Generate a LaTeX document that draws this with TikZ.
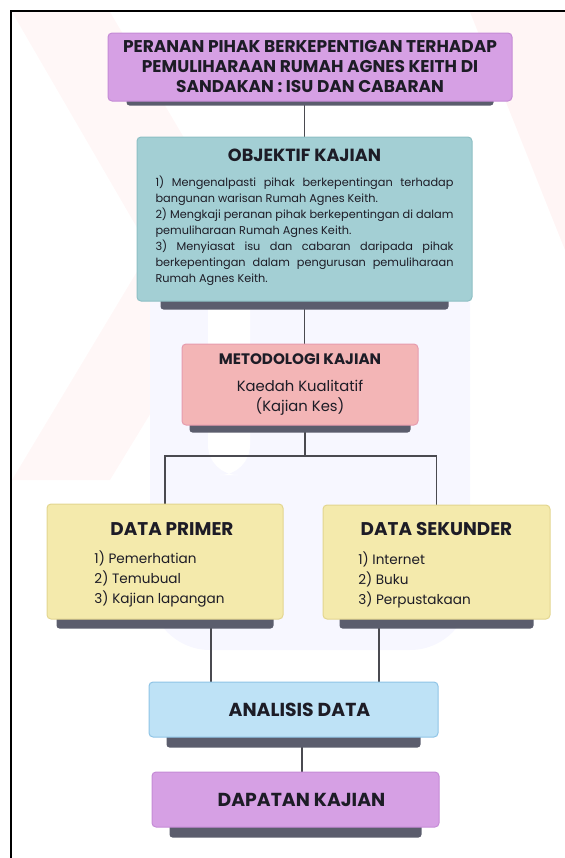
\documentclass[tikz,border=0pt]{standalone}
\usepackage{fontspec}
\setmainfont{Poppins}
\usetikzlibrary{backgrounds}
\setlength{\parindent}{0pt}
\definecolor{ink}{HTML}{1D1C26}
\definecolor{lilac}{HTML}{D6A0E4}
\definecolor{lilacline}{HTML}{C58BD6}
\definecolor{teal}{HTML}{A3CFD4}
\definecolor{tealline}{HTML}{8DBFC4}
\definecolor{rose}{HTML}{F3B5B6}
\definecolor{roseline}{HTML}{E69CAE}
\definecolor{sand}{HTML}{F4EAAC}
\definecolor{sandline}{HTML}{E3D690}
\definecolor{sky}{HTML}{BEE2F6}
\definecolor{skyline}{HTML}{8FC4E6}
\definecolor{shade}{HTML}{5B5D6D}
\definecolor{wire}{HTML}{4A4A50}
\tikzset{
        box/.style = {rectangle, rounded corners=2pt, line width=0.5pt,
            inner sep=0pt, align=center, text=ink},
        titlebox/.style = {box, fill=lilac, draw=lilacline,
            font=\fontsize{8.5pt}{10pt}\selectfont\bfseries},
        objbox/.style = {box, fill=teal, draw=tealline, align=justify,
            text width=149pt, inner xsep=9.25pt, minimum height=82pt},
        methbox/.style = {box, fill=rose, draw=roseline,
            font=\fontsize{7.4pt}{10pt}\selectfont},
        databox/.style = {box, fill=sand, draw=sandline,
            font=\fontsize{6.8pt}{10pt}\selectfont},
        endbox/.style = {box, font=\fontsize{9.4pt}{10pt}\selectfont\bfseries},
        link/.style = {draw=wire, line width=0.6pt},
        shadow/.style = {fill=shade, rounded corners=1.5pt}
    }
\newcommand{\boxshade}[3]{%
  \fill[shadow] ([xshift=#2,yshift=4pt]#1.south west)
    rectangle ([xshift=-#2,yshift=-#3]#1.south east);}

\begin{document}
\begin{tikzpicture}[x=0.5pt,y=-0.5pt]
\useasboundingbox (0,0) rectangle (565,858);
% watermark tints
\begin{scope}[on background layer]
  \fill[red!4] (470,12) -- (565,12) -- (565,250) -- cycle;
  \fill[red!3] (12,12) -- (110,12) -- (250,250) -- (110,480) -- (12,480) -- (150,250) -- cycle;
  \fill[blue!3, rounded corners=30pt] (150,230) rectangle (470,650);
  \fill[white, rounded corners=15pt] (208,230) rectangle (250,475);
\end{scope}
\draw[line width=1pt] (11,858) -- (11,11) -- (565,11);

\node[titlebox, minimum width=202pt, minimum height=34pt] (title) at (310,67)
  {PERANAN PIHAK BERKEPENTIGAN TERHADAP\\PEMULIHARAAN RUMAH AGNES KEITH DI\\SANDAKAN : ISU DAN CABARAN};
\node[objbox] (objektif) at (304.5,219) {%
  {\centering\fontsize{8.8pt}{9pt}\selectfont\bfseries OBJEKTIF KAJIAN\par}
  \vspace{4.5pt}
  {\fontsize{5.65pt}{8pt}\selectfont\hyphenpenalty=10000\tolerance=9999
  1) Mengenalpasti pihak berkepentingan terhadap\linebreak
  bangunan warisan Rumah Agnes Keith.\par
  2) Mengkaji peranan pihak berkepentingan di dalam\linebreak
  pemuliharaan Rumah Agnes Keith.\par
  3) Menyiasat isu dan cabaran daripada pihak\linebreak
  berkepentingan dalam pengurusan pemuliharaan\linebreak
  Rumah Agnes Keith.\par}
  \vspace{2pt}};
\node[methbox, minimum width=118pt, minimum height=40.5pt] (metodologi) at (300,384.5)
  {{\fontsize{7.6pt}{9pt}\selectfont\bfseries METODOLOGI KAJIAN}\\[3.5pt]
   Kaedah Kualitatif\\(Kajian Kes)};
\node[databox, minimum width=118pt, minimum height=57.5pt] (primer) at (165,561.5)
  {\rule{0pt}{11pt}\hspace*{7pt}{\fontsize{9.2pt}{10pt}\selectfont\bfseries DATA PRIMER}\\[6pt]
   \begin{tabular}{@{}l@{\hspace{5.5pt}}}1) Pemerhatian\\2) Temubual\\3) Kajian lapangan\end{tabular}};
\node[databox, minimum width=113.5pt, minimum height=57pt] (sekunder) at (436.5,562)
  {\rule{0pt}{11pt}{\fontsize{9.2pt}{10pt}\selectfont\bfseries DATA SEKUNDER}\\[6pt]
   \begin{tabular}{@{}l@{\hspace{22pt}}}1) Internet\\2) Buku\\3) Perpustakaan\end{tabular}};
\node[endbox, fill=sky, draw=skyline, minimum width=144.5pt, minimum height=27.5pt] (analisis) at (293.5,709.5)
  {\hspace*{6pt}ANALISIS DATA};
\node[endbox, fill=lilac, draw=lilacline, minimum width=143.5pt, minimum height=27.5pt] (dapatan) at (295.5,799.5)
  {\hspace*{6pt}DAPATAN KAJIAN};

\coordinate (split) at (305,456);
\coordinate (inL) at (211,650);
\coordinate (inR) at (379,650);
\coordinate (down) at (302,760);

\begin{scope}[on background layer]
  \draw[link] (objektif.north) -- (objektif.north |- title.south);
  \draw[link] (objektif.south) -- (objektif.south |- metodologi.north);
  \draw[link] (metodologi.south -| split) -- (split);
  \draw[link] (primer.north) |- (split) -| (sekunder.north);
  \draw[link] (inL |- primer.south) -- (inL |- analisis.north);
  \draw[link] (inR |- sekunder.south) -- (inR |- analisis.north);
  \draw[link] (down |- analisis.south) -- (down |- dapatan.north);
  \boxshade{title}{9.5pt}{2pt}
  \boxshade{objektif}{12pt}{4pt}
  \boxshade{metodologi}{4pt}{3.5pt}
  \boxshade{primer}{5pt}{4.5pt}
  \boxshade{sekunder}{8.5pt}{4.5pt}
  \boxshade{analisis}{9pt}{5pt}
  \boxshade{dapatan}{9pt}{5pt}
\end{scope}
\end{tikzpicture}
\end{document}
